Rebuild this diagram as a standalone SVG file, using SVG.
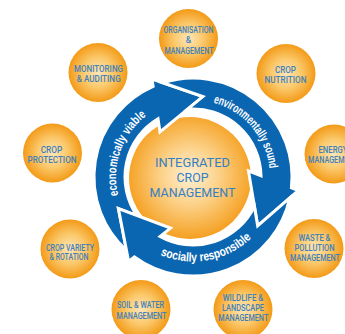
<svg xmlns="http://www.w3.org/2000/svg" width="345" height="334" viewBox="0 0 345 334">
  <defs>
    <radialGradient id="ballFill" cx="50%" cy="50%" r="50%">
      <stop offset="0" stop-color="#fde6b9"/>
      <stop offset="0.5" stop-color="#fbc96c"/>
      <stop offset="1" stop-color="#f39a17"/>
    </radialGradient>
    <radialGradient id="hubFill" cx="50%" cy="48%" r="52%">
      <stop offset="0" stop-color="#fff0d6"/>
      <stop offset="0.45" stop-color="#fcd28a"/>
      <stop offset="1" stop-color="#f5a021"/>
    </radialGradient>
    <!-- one curved arrow of the cycle; the other two are rotated copies -->
    <path id="cycleArrow" d="M 126.45 250.3 A 99 99 0 0 1 153.11 86.37 L 152 79 L 202.9 96.6 L 160 132 L 157.99 118.7 A 68 68 0 0 0 136.98 215.54 L 118.42 208.62 Z"/>
    <path id="arcOut" d="M 120.87 203.97 A 77 77 0 0 1 153.92 110.66" fill="none"/>
    <path id="arcIn" d="M 151.4 250.55 A 84.5 84.5 0 0 0 258.2 230.75" fill="none"/>
  </defs>
  <style>
    .ball { fill: url(#ballFill); }
    .lbl { font-family: Roboto, "Liberation Sans", sans-serif; font-size: 8.5px; font-weight: 500; fill: #3e80ba; text-anchor: middle; }
    .hub { fill: url(#hubFill); }
    .hub-text { font-family: Roboto, "Liberation Sans", sans-serif; font-size: 13.5px; fill: #3580c2; text-anchor: middle; }
    .ring { fill: #0b66b2; stroke: #ffffff; stroke-width: 3; stroke-linejoin: miter; }
    .ring-text { font-family: "Liberation Sans", Arial, sans-serif; font-weight: bold; font-size: 12.5px; fill: #ffffff; }
  </style>

  <rect width="345" height="334" fill="#ffffff"/>

  <!-- central hub -->
  <g id="integrated-crop-management">
    <circle class="hub" cx="190" cy="178" r="61"/>
    <text class="hub-text" x="192.5" y="166.7" textLength="75" lengthAdjust="spacingAndGlyphs">INTEGRATED</text>
    <text class="hub-text" x="192.5" y="181.7" textLength="32" lengthAdjust="spacingAndGlyphs">CROP</text>
    <text class="hub-text" x="192.5" y="196.7" textLength="86" lengthAdjust="spacingAndGlyphs">MANAGEMENT</text>
  </g>

  <!-- cycle of three arrows -->
  <g id="connectors">
    <use href="#cycleArrow" class="ring"/>
    <use href="#cycleArrow" class="ring" transform="rotate(120 193 177)"/>
    <use href="#cycleArrow" class="ring" transform="rotate(240 193 177)"/>
    <text class="ring-text"><textPath href="#arcOut" startOffset="50%" text-anchor="middle" textLength="89" lengthAdjust="spacingAndGlyphs">economically viable</textPath></text>
    <g transform="rotate(120 193 177)">
      <text class="ring-text"><textPath href="#arcOut" startOffset="50%" text-anchor="middle" textLength="92" lengthAdjust="spacingAndGlyphs">environmentally sound</textPath></text>
    </g>
    <text class="ring-text"><textPath href="#arcIn" startOffset="50%" text-anchor="middle" textLength="98" lengthAdjust="spacingAndGlyphs">socially responsible</textPath></text>
  </g>

  <!-- surrounding topics -->
  <g id="organisation-management">
    <circle class="ball" cx="188.5" cy="38.5" r="29.5"/>
    <text class="lbl" x="188.5" y="33.3" textLength="50" lengthAdjust="spacingAndGlyphs">ORGANISATION</text>
    <text class="lbl" x="188.5" y="43.3">&amp;</text>
    <text class="lbl" x="189" y="53.5" textLength="49" lengthAdjust="spacingAndGlyphs">MANAGEMENT</text>
  </g>
  <g id="crop-nutrition">
    <circle class="ball" cx="286" cy="73.5" r="29.5"/>
    <text class="lbl" x="285.5" y="72.7" textLength="21" lengthAdjust="spacingAndGlyphs">CROP</text>
    <text class="lbl" x="285.5" y="82.7" textLength="42" lengthAdjust="spacingAndGlyphs">NUTRITION</text>
  </g>
  <g id="energy-management">
    <circle class="ball" cx="334" cy="154" r="29.5"/>
    <text class="lbl" x="333" y="152.7" textLength="29" lengthAdjust="spacingAndGlyphs">ENERGY</text>
    <text class="lbl" x="333" y="162.7" textLength="50" lengthAdjust="spacingAndGlyphs">MANAGEMENT</text>
  </g>
  <g id="waste-pollution-management">
    <circle class="ball" cx="314" cy="248.5" r="29.5"/>
    <text class="lbl" x="314.5" y="240.7" textLength="32" lengthAdjust="spacingAndGlyphs">WASTE &amp;</text>
    <text class="lbl" x="314.5" y="250.7" textLength="40" lengthAdjust="spacingAndGlyphs">POLLUTION</text>
    <text class="lbl" x="315" y="260.7" textLength="50" lengthAdjust="spacingAndGlyphs">MANAGEMENT</text>
  </g>
  <g id="wildlife-landscape-management">
    <circle class="ball" cx="243" cy="309.5" r="29.5"/>
    <text class="lbl" x="243" y="300.7" textLength="40.6" lengthAdjust="spacingAndGlyphs">WILDLIFE &amp;</text>
    <text class="lbl" x="243" y="310.5" textLength="42" lengthAdjust="spacingAndGlyphs">LANDSCAPE</text>
    <text class="lbl" x="243.3" y="320.5" textLength="50" lengthAdjust="spacingAndGlyphs">MANAGEMENT</text>
  </g>
  <g id="soil-water-management">
    <circle class="ball" cx="141" cy="309.5" r="29.5"/>
    <text class="lbl" x="140.5" y="308.3" textLength="47" lengthAdjust="spacingAndGlyphs">SOIL &amp; WATER</text>
    <text class="lbl" x="141.5" y="319" textLength="50" lengthAdjust="spacingAndGlyphs">MANAGEMENT</text>
  </g>
  <g id="crop-variety-rotation">
    <circle class="ball" cx="70" cy="249" r="29.5"/>
    <text class="lbl" x="70" y="250.7" textLength="48" lengthAdjust="spacingAndGlyphs">CROP VARIETY</text>
    <text class="lbl" x="69" y="260" textLength="39" lengthAdjust="spacingAndGlyphs">&amp; ROTATION</text>
  </g>
  <g id="crop-protection">
    <circle class="ball" cx="52.5" cy="153" r="29.5"/>
    <text class="lbl" x="51.5" y="152.7" textLength="21.6" lengthAdjust="spacingAndGlyphs">CROP</text>
    <text class="lbl" x="52" y="162.7" textLength="49" lengthAdjust="spacingAndGlyphs">PROTECTION</text>
  </g>
  <g id="monitoring-auditing">
    <circle class="ball" cx="98" cy="72.5" r="29.5"/>
    <text class="lbl" x="98.5" y="71.7" textLength="49" lengthAdjust="spacingAndGlyphs">MONITORING</text>
    <text class="lbl" x="98.7" y="81.7" textLength="44" lengthAdjust="spacingAndGlyphs">&amp; AUDITING</text>
  </g>
</svg>
